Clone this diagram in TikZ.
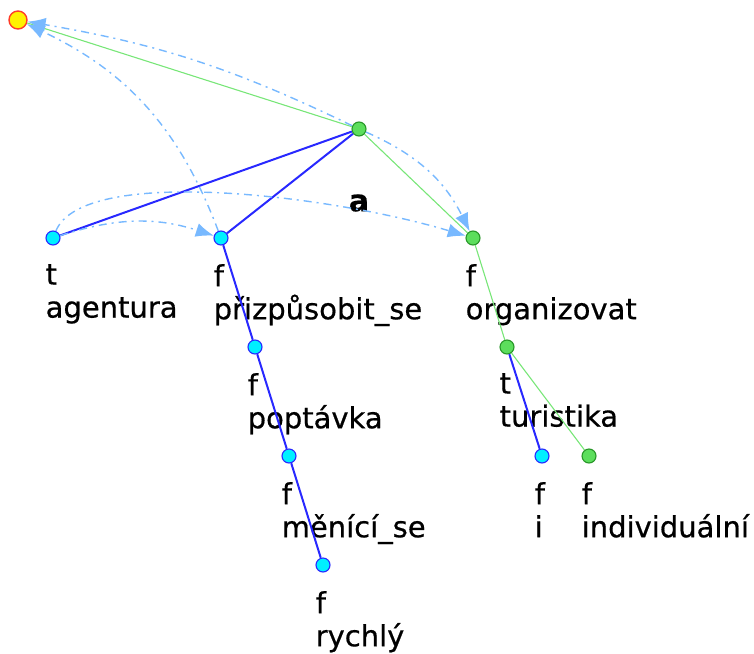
\documentclass[tikz,border=0pt]{standalone}
\usepackage{fontspec}
\setmainfont{DejaVu Sans}[FakeBold=0.6]
\usepackage{xcolor}
\usetikzlibrary{arrows.meta,positioning}

\definecolor{nodegreen}{RGB}{92,222,92}
\definecolor{darkgreen}{RGB}{40,150,40}
\definecolor{nodecyan}{RGB}{0,240,255}
\definecolor{edgeblue}{RGB}{40,40,255}
\definecolor{edgegreen}{RGB}{120,230,120}
\definecolor{corefblue}{RGB}{120,185,255}
\definecolor{rootred}{RGB}{255,60,40}

\begin{document}
\begin{tikzpicture}[
  x=1pt, y=-1pt,
  rootnode/.style={circle, fill=yellow, draw=rootred, line width=1.4pt, minimum size=18pt, inner sep=0pt},
  gnode/.style={circle, fill=nodegreen, draw=darkgreen, line width=1.1pt, minimum size=14pt, inner sep=0pt},
  cnode/.style={circle, fill=nodecyan, draw=edgeblue, line width=1.1pt, minimum size=14pt, inner sep=0pt},
  lbl/.style={anchor=north west, inner sep=0pt, align=left, font=\fontsize{29}{33}\selectfont, execute at begin node=\strut},
  blueedge/.style={draw=edgeblue, line width=2pt},
  greenedge/.style={draw=edgegreen, line width=1.1pt},
  % dash-dot reference arrows
  coref/.style={draw=corefblue, line width=1.4pt, dash pattern=on 8pt off 5pt on 2pt off 5pt,
    -{Latex[length=18pt,width=14pt]}}
]
  \useasboundingbox (0,0) rectangle (754,653);

  % tree nodes
  \node[rootnode] (root) at (18,20) {};
  \node[gnode] (pred) at (359,129) {};
  \node[cnode] (agentura) at (53,238) {};
  \node[cnode] (prizpusobit) at (221,238) {};
  \node[gnode] (organizovat) at (473,238) {};
  \node[cnode] (poptavka) at (255,347) {};
  \node[cnode] (menici) at (289,456) {};
  \node[cnode] (rychly) at (323,565) {};
  \node[gnode] (turistika) at (507,347) {};
  \node[cnode] (i) at (542,456) {};
  \node[gnode] (individualni) at (589,456) {};

  % labels under the nodes
  \foreach \n/\t/\w in {agentura/t/agentura, prizpusobit/f/přizpůsobit\_se,
      organizovat/f/organizovat, poptavka/f/poptávka, menici/f/měnící\_se,
      rychly/f/rychlý, turistika/t/turistika, i/f/i, individualni/f/individuální}
    \node[lbl] (\n-lbl) at ([shift={(-7.5,26)}]\n.center) {\t\\\w};
  \node[font=\fontsize{30}{33}\selectfont\bfseries, inner sep=0pt] (pred-lbl) at ([yshift=-74pt]pred.center) {a};

  % edges
  \foreach \a/\b in {pred/agentura, pred/prizpusobit, prizpusobit/poptavka,
      poptavka/menici, menici/rychly, turistika/i}
    \draw[blueedge] (\a) -- (\b);
  \foreach \a/\b in {pred/root, pred/organizovat, organizovat/turistika, turistika/individualni}
    \draw[greenedge] (\a) -- (\b);

  % references
  \draw[coref] (pred) to[bend right=8] (root);
  \draw[coref] (prizpusobit) to[bend right=22] (root);
  \draw[coref] (agentura) to[bend left=18] (prizpusobit);
  \draw[coref] (agentura) .. controls +(30,-73) and +(-143,-43) .. (organizovat);
  \draw[coref] (pred) to[bend left=20] (organizovat);
\end{tikzpicture}
\end{document}
